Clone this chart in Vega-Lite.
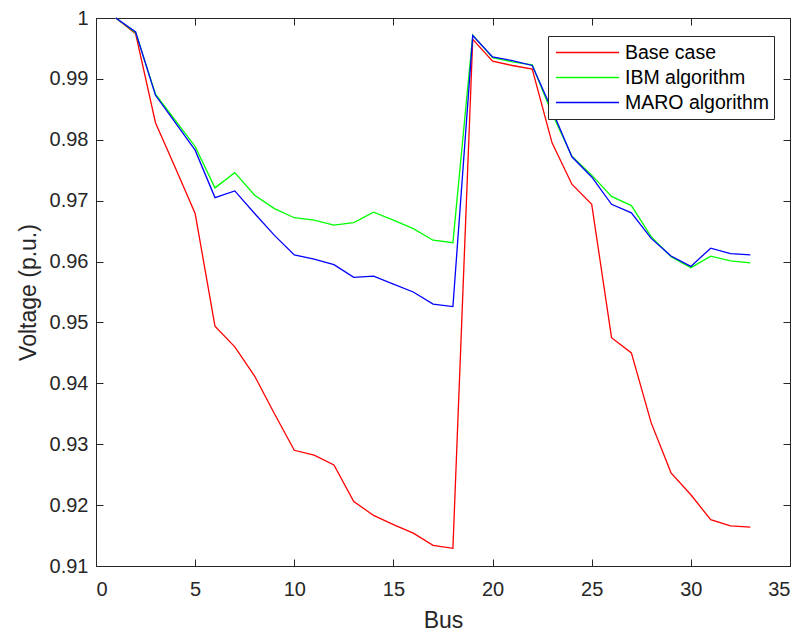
{
  "$schema": "https://vega.github.io/schema/vega-lite/v6.json",
  "width": 694,
  "height": 548,
  "autosize": "none",
  "padding": {"left": 96, "top": 18, "right": 13, "bottom": 67},
  "background": "white",
  "config": {
    "font": "Liberation Sans",
    "view": {"stroke": "#262626", "strokeWidth": 1},
    "axis": {
      "domain": true,
      "domainColor": "#262626",
      "tickColor": "#262626",
      "labelColor": "#262626",
      "titleColor": "#262626",
      "labelFont": "Liberation Sans",
      "titleFont": "Liberation Sans",
      "labelFontSize": 20,
      "titleFontSize": 23,
      "titleFontWeight": "normal",
      "grid": false,
      "tickSize": -7,
      "domainWidth": 1,
      "tickWidth": 1
    }
  },
  "data": {
    "values": [
      {"bus": 1, "series": "Base case", "v": 1.0},
      {"bus": 2, "series": "Base case", "v": 0.9974},
      {"bus": 3, "series": "Base case", "v": 0.9828},
      {"bus": 4, "series": "Base case", "v": 0.9754},
      {"bus": 5, "series": "Base case", "v": 0.9679},
      {"bus": 6, "series": "Base case", "v": 0.9494},
      {"bus": 7, "series": "Base case", "v": 0.9460},
      {"bus": 8, "series": "Base case", "v": 0.9412},
      {"bus": 9, "series": "Base case", "v": 0.9350},
      {"bus": 10, "series": "Base case", "v": 0.9290},
      {"bus": 11, "series": "Base case", "v": 0.9282},
      {"bus": 12, "series": "Base case", "v": 0.9266},
      {"bus": 13, "series": "Base case", "v": 0.9206},
      {"bus": 14, "series": "Base case", "v": 0.9183},
      {"bus": 15, "series": "Base case", "v": 0.9168},
      {"bus": 16, "series": "Base case", "v": 0.9154},
      {"bus": 17, "series": "Base case", "v": 0.9134},
      {"bus": 18, "series": "Base case", "v": 0.9129},
      {"bus": 19, "series": "Base case", "v": 0.9965},
      {"bus": 20, "series": "Base case", "v": 0.9929},
      {"bus": 21, "series": "Base case", "v": 0.9922},
      {"bus": 22, "series": "Base case", "v": 0.9916},
      {"bus": 23, "series": "Base case", "v": 0.9795},
      {"bus": 24, "series": "Base case", "v": 0.9727},
      {"bus": 25, "series": "Base case", "v": 0.9694},
      {"bus": 26, "series": "Base case", "v": 0.9475},
      {"bus": 27, "series": "Base case", "v": 0.9450},
      {"bus": 28, "series": "Base case", "v": 0.9335},
      {"bus": 29, "series": "Base case", "v": 0.9253},
      {"bus": 30, "series": "Base case", "v": 0.9217},
      {"bus": 31, "series": "Base case", "v": 0.9176},
      {"bus": 32, "series": "Base case", "v": 0.9166},
      {"bus": 33, "series": "Base case", "v": 0.9164},
      {"bus": 1, "series": "IBM algorithm", "v": 1.0},
      {"bus": 2, "series": "IBM algorithm", "v": 0.9976},
      {"bus": 3, "series": "IBM algorithm", "v": 0.9875},
      {"bus": 4, "series": "IBM algorithm", "v": 0.9832},
      {"bus": 5, "series": "IBM algorithm", "v": 0.9789},
      {"bus": 6, "series": "IBM algorithm", "v": 0.9721},
      {"bus": 7, "series": "IBM algorithm", "v": 0.9746},
      {"bus": 8, "series": "IBM algorithm", "v": 0.9709},
      {"bus": 9, "series": "IBM algorithm", "v": 0.9687},
      {"bus": 10, "series": "IBM algorithm", "v": 0.9672},
      {"bus": 11, "series": "IBM algorithm", "v": 0.9668},
      {"bus": 12, "series": "IBM algorithm", "v": 0.9660},
      {"bus": 13, "series": "IBM algorithm", "v": 0.9664},
      {"bus": 14, "series": "IBM algorithm", "v": 0.9681},
      {"bus": 15, "series": "IBM algorithm", "v": 0.9668},
      {"bus": 16, "series": "IBM algorithm", "v": 0.9654},
      {"bus": 17, "series": "IBM algorithm", "v": 0.9635},
      {"bus": 18, "series": "IBM algorithm", "v": 0.9631},
      {"bus": 19, "series": "IBM algorithm", "v": 0.9972},
      {"bus": 20, "series": "IBM algorithm", "v": 0.9935},
      {"bus": 21, "series": "IBM algorithm", "v": 0.9928},
      {"bus": 22, "series": "IBM algorithm", "v": 0.9923},
      {"bus": 23, "series": "IBM algorithm", "v": 0.9843},
      {"bus": 24, "series": "IBM algorithm", "v": 0.9773},
      {"bus": 25, "series": "IBM algorithm", "v": 0.9742},
      {"bus": 26, "series": "IBM algorithm", "v": 0.9707},
      {"bus": 27, "series": "IBM algorithm", "v": 0.9692},
      {"bus": 28, "series": "IBM algorithm", "v": 0.9641},
      {"bus": 29, "series": "IBM algorithm", "v": 0.9608},
      {"bus": 30, "series": "IBM algorithm", "v": 0.9590},
      {"bus": 31, "series": "IBM algorithm", "v": 0.9609},
      {"bus": 32, "series": "IBM algorithm", "v": 0.9601},
      {"bus": 33, "series": "IBM algorithm", "v": 0.9598},
      {"bus": 1, "series": "MARO algorithm", "v": 1.0},
      {"bus": 2, "series": "MARO algorithm", "v": 0.9977},
      {"bus": 3, "series": "MARO algorithm", "v": 0.9873},
      {"bus": 4, "series": "MARO algorithm", "v": 0.9828},
      {"bus": 5, "series": "MARO algorithm", "v": 0.9783},
      {"bus": 6, "series": "MARO algorithm", "v": 0.9705},
      {"bus": 7, "series": "MARO algorithm", "v": 0.9716},
      {"bus": 8, "series": "MARO algorithm", "v": 0.9679},
      {"bus": 9, "series": "MARO algorithm", "v": 0.9643},
      {"bus": 10, "series": "MARO algorithm", "v": 0.9611},
      {"bus": 11, "series": "MARO algorithm", "v": 0.9604},
      {"bus": 12, "series": "MARO algorithm", "v": 0.9595},
      {"bus": 13, "series": "MARO algorithm", "v": 0.9574},
      {"bus": 14, "series": "MARO algorithm", "v": 0.9576},
      {"bus": 15, "series": "MARO algorithm", "v": 0.9563},
      {"bus": 16, "series": "MARO algorithm", "v": 0.9550},
      {"bus": 17, "series": "MARO algorithm", "v": 0.9530},
      {"bus": 18, "series": "MARO algorithm", "v": 0.9526},
      {"bus": 19, "series": "MARO algorithm", "v": 0.9971},
      {"bus": 20, "series": "MARO algorithm", "v": 0.9936},
      {"bus": 21, "series": "MARO algorithm", "v": 0.9930},
      {"bus": 22, "series": "MARO algorithm", "v": 0.9922},
      {"bus": 23, "series": "MARO algorithm", "v": 0.9849},
      {"bus": 24, "series": "MARO algorithm", "v": 0.9772},
      {"bus": 25, "series": "MARO algorithm", "v": 0.9739},
      {"bus": 26, "series": "MARO algorithm", "v": 0.9694},
      {"bus": 27, "series": "MARO algorithm", "v": 0.9680},
      {"bus": 28, "series": "MARO algorithm", "v": 0.9638},
      {"bus": 29, "series": "MARO algorithm", "v": 0.9609},
      {"bus": 30, "series": "MARO algorithm", "v": 0.9592},
      {"bus": 31, "series": "MARO algorithm", "v": 0.9622},
      {"bus": 32, "series": "MARO algorithm", "v": 0.9613},
      {"bus": 33, "series": "MARO algorithm", "v": 0.9611}
    ]
  },
  "layer": [
    {
      "mark": {"type": "line", "strokeWidth": 1.3},
      "encoding": {
        "x": {
          "field": "bus", "type": "quantitative",
          "scale": {"domain": [0, 35], "nice": false, "zero": false},
          "axis": {"title": "Bus", "values": [0, 5, 10, 15, 20, 25, 30, 35], "labelPadding": 20, "titlePadding": 10, "orient": "bottom"}
        },
        "y": {
          "field": "v", "type": "quantitative",
          "scale": {"domain": [0.91, 1.0], "nice": false, "zero": false},
          "axis": {"title": "Voltage (p.u.)", "values": [0.91, 0.92, 0.93, 0.94, 0.95, 0.96, 0.97, 0.98, 0.99, 1.0], "labelExpr": "datum.value == 1 ? '1' : format(datum.value, '.2f')", "labelPadding": 15, "titlePadding": 9, "orient": "left"}
        },
        "color": {
          "field": "series", "type": "nominal",
          "scale": {"domain": ["Base case", "IBM algorithm", "MARO algorithm"], "range": ["#ff0000", "#00ff00", "#0000ff"]},
          "legend": {
            "title": null,
            "orient": "none",
            "legendX": 452,
            "legendY": 18,
            "strokeColor": "#262626",
            "fillColor": "white",
            "padding": 4,
            "symbolType": "stroke",
            "symbolSize": 3969,
            "symbolStrokeWidth": 1.5,
            "symbolOffset": 3,
            "clipHeight": 25,
            "labelFontSize": 19.5,
            "labelOffset": 5,
            "labelColor": "#000000",
            "labelFont": "Liberation Sans",
            "rowPadding": 0,
            "cornerRadius": 0
          }
        }
      }
    },
    {
      "mark": {"type": "line", "opacity": 0},
      "encoding": {
        "x": {
          "field": "bus", "type": "quantitative",
          "scale": {"domain": [0, 35], "nice": false, "zero": false},
          "axis": {"title": null, "labels": false, "values": [0, 5, 10, 15, 20, 25, 30, 35], "orient": "top"}
        },
        "y": {
          "field": "v", "type": "quantitative",
          "scale": {"domain": [0.91, 1.0], "nice": false, "zero": false},
          "axis": {"title": null, "labels": false, "values": [0.91, 0.92, 0.93, 0.94, 0.95, 0.96, 0.97, 0.98, 0.99, 1.0], "orient": "right"}
        }
      }
    }
  ],
  "resolve": {"axis": {"x": "independent", "y": "independent"}}
}
